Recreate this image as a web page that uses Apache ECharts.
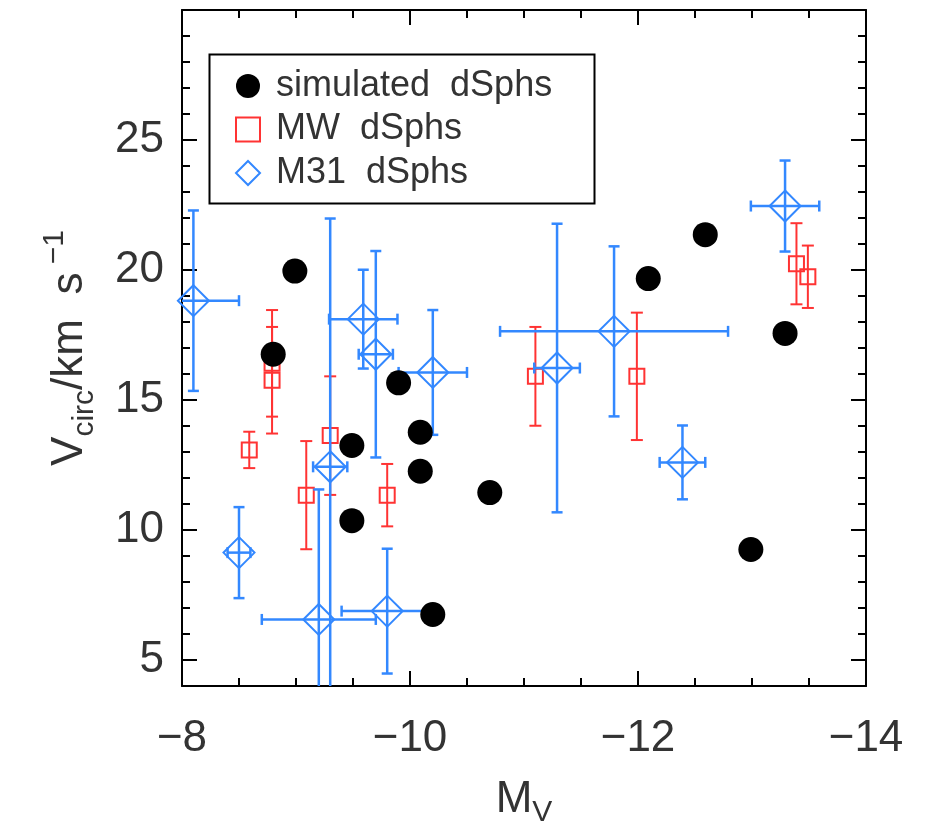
<!DOCTYPE html>
<html>
<head>
<meta charset="utf-8">
<script src="https://cdn.jsdelivr.net/npm/echarts@6/dist/echarts.min.js"></script>
<style>
  html, body { margin: 0; padding: 0; background: #fff; }
  #chart { width: 927px; height: 833px; }
</style>
</head>
<body>
<div id="chart"></div>
<script>
// simulated dSphs
const simX = [-8.99, -8.80, -9.90, -10.09, -9.49, -10.09, -10.70, -9.49, -10.20, -12.09, -12.59, -13.29, -12.99]
const simY = [19.96, 16.76, 15.66, 13.76, 13.25, 12.26, 11.44, 10.36, 6.75, 19.67, 21.36, 17.56, 9.25]

// MW dSphs
const mwX = [-8.59, -8.79, -8.79, -9.09, -9.30, -9.80, -11.10, -11.99, -13.39, -13.49]
const mwY = [13.08, 16.41, 15.76, 11.34, 13.63, 11.34, 15.91, 15.91, 20.24, 19.74]
const mwYErr = [0.7, 2.05, 2.05, 2.08, 2.28, 1.2, 1.9, 2.45, 1.56, 1.2]

// M31 dSphs
const m31X = [-8.10, -8.50, -9.20, -9.30, -9.59, -9.70, -9.80, -10.20, -11.29, -11.79, -12.39, -13.29]
const m31Y = [18.82, 9.13, 6.56, 12.43, 18.11, 16.76, 6.88, 16.06, 16.23, 17.64, 12.60, 22.46]
const m31XErr = [0.4, 0.1, 0.5, 0.15, 0.3, 0.15, 0.4, 0.3, 0.2, 1.0, 0.2, 0.3]
const m31YErr = [3.47, 1.75, 5.0, 9.55, 1.9, 3.97, 2.4, 2.4, 5.55, 3.27, 1.42, 1.75]

const yMajor = [5, 10, 15, 20, 25]

const RED = '#ff3333'
const BLUE = '#3388ff'
const FONT = 'Liberation Sans'
const TXT = '#333'

const zip = (...cols) => cols[0].map((_, i) => cols.map(c => c[i]))

// error bars drawn through the axis scale
const errBars = (color, capW, lw) => (params, api) => {
  const x = api.value(0), y = api.value(1), xe = api.value(2), ye = api.value(3)
  const c = api.coord([x, y])
  const style = { stroke: color, lineWidth: lw }
  const kids = []
  if (ye > 0) {
    const t = api.coord([x, y + ye]), b = api.coord([x, y - ye])
    kids.push({ type: 'line', shape: { x1: c[0], y1: t[1], x2: c[0], y2: b[1] }, style })
    kids.push({ type: 'line', shape: { x1: c[0] - capW / 2, y1: t[1], x2: c[0] + capW / 2, y2: t[1] }, style })
    kids.push({ type: 'line', shape: { x1: c[0] - capW / 2, y1: b[1], x2: c[0] + capW / 2, y2: b[1] }, style })
  }
  if (xe > 0) {
    const l = api.coord([x - xe, y]), r = api.coord([x + xe, y])
    kids.push({ type: 'line', shape: { x1: l[0], y1: c[1], x2: r[0], y2: c[1] }, style })
    kids.push({ type: 'line', shape: { x1: l[0], y1: c[1] - capW / 2, x2: l[0], y2: c[1] + capW / 2 }, style })
    kids.push({ type: 'line', shape: { x1: r[0], y1: c[1] - capW / 2, x2: r[0], y2: c[1] + capW / 2 }, style })
  }
  return { type: 'group', children: kids }
}

const axisLine = { show: true, lineStyle: { color: '#000', width: 2 } }
const tickStyle = { color: '#000', width: 2 }
const minus = v => (v < 0 ? '\u2212' + Math.abs(v) : String(v))

const xBase = {
  type: 'value', min: -14, max: -8, interval: 2, inverse: true,
  axisLine, splitLine: { show: false },
  axisTick: { inside: true, length: 15, lineStyle: tickStyle },
  minorTick: { show: true, splitNumber: 4, length: 8, lineStyle: tickStyle },
}
const yBase = {
  type: 'value', min: 4, max: 30, splitLine: { show: false },
}

const chart = echarts.init(document.getElementById('chart'))
chart.setOption({
  animation: false,
  backgroundColor: '#fff',
  textStyle: { fontFamily: FONT, color: TXT },
  grid: { left: 182, top: 10, width: 684, height: 684 },
  xAxis: [
    {
      ...xBase, position: 'bottom',
      axisLabel: { formatter: minus, fontSize: 44, color: TXT, margin: 31, fontFamily: FONT },
      name: '{m|M}{s|V}', nameLocation: 'middle', nameGap: 86,
      nameTextStyle: {
        rich: {
          m: { fontSize: 44, color: TXT, fontFamily: FONT, lineHeight: 56, verticalAlign: 'middle' },
          s: { fontSize: 30, color: TXT, fontFamily: FONT, lineHeight: 30, verticalAlign: 'bottom' },
        },
      },
    },
    { ...xBase, position: 'top', axisLabel: { show: false } },
  ],
  yAxis: [
    {
      ...yBase, interval: 1, position: 'left', axisLine,
      axisTick: { inside: true, length: 8, lineStyle: tickStyle },
      axisLabel: { show: false },
      name: '{v|V}{sub|circ}{v|/km  s}{sup| \u22121}', nameLocation: 'middle', nameGap: 82,
      nameTextStyle: {
        rich: {
          v: { fontSize: 44, color: TXT, fontFamily: FONT, lineHeight: 60, verticalAlign: 'middle' },
          sub: { fontSize: 30, color: TXT, fontFamily: FONT, lineHeight: 30, verticalAlign: 'bottom' },
          sup: { fontSize: 30, color: TXT, fontFamily: FONT, lineHeight: 30, verticalAlign: 'top' },
        },
      },
    },
    {
      ...yBase, position: 'left', axisLine: { show: false },
      axisTick: { inside: true, length: 15, lineStyle: tickStyle, customValues: yMajor },
      axisLabel: { customValues: yMajor, fontSize: 44, color: TXT, margin: 18, fontFamily: FONT },
    },
    {
      ...yBase, interval: 1, position: 'right', axisLine,
      axisTick: { inside: true, length: 8, lineStyle: tickStyle },
      axisLabel: { show: false },
    },
    {
      ...yBase, position: 'right', axisLine: { show: false },
      axisTick: { inside: true, length: 15, lineStyle: tickStyle, customValues: yMajor },
      axisLabel: { show: false },
    },
  ],
  legend: {
    orient: 'vertical', left: 235, top: 68, padding: 0,
    itemWidth: 24, itemHeight: 24, itemGap: 7.5,
    textStyle: { fontSize: 36, color: TXT, fontFamily: FONT, lineHeight: 24, padding: [0, 0, 0, 11] },
    data: [
      { name: 'simulated dSphs', icon: 'circle' },
      { name: 'MW dSphs', icon: 'rect' },
      { name: 'M31 dSphs', icon: 'diamond' },
    ],
    formatter: n => n.replace(' ', '  '),
  },
  graphic: [
    {
      type: 'rect', left: 207, top: 52, z: 100,
      shape: { width: 385, height: 149 },
      style: { fill: 'none', stroke: '#000', lineWidth: 2 },
    },
  ],
  series: [
    {
      type: 'custom', name: 'mwErr', clip: true, z: 2,
      renderItem: errBars(RED, 12, 2),
      encode: { x: 0, y: 1 },
      data: zip(mwX, mwY, mwX.map(() => 0), mwYErr),
    },
    {
      type: 'scatter', name: 'MW dSphs', z: 3,
      symbol: 'rect', symbolSize: 15,
      itemStyle: { color: 'rgba(255,255,255,0)', borderColor: RED, borderWidth: 2, opacity: 1 },
      data: zip(mwX, mwY),
    },
    {
      type: 'custom', name: 'm31Err', clip: true, z: 4,
      renderItem: errBars(BLUE, 11, 2.5),
      encode: { x: 0, y: 1 },
      data: zip(m31X, m31Y, m31XErr, m31YErr),
    },
    {
      type: 'scatter', name: 'M31 dSphs', z: 5,
      symbol: 'diamond', symbolSize: 31,
      itemStyle: { color: 'rgba(255,255,255,0)', borderColor: BLUE, borderWidth: 2, opacity: 1 },
      data: zip(m31X, m31Y),
    },
    {
      type: 'scatter', name: 'simulated dSphs', z: 6,
      symbol: 'circle', symbolSize: 25,
      itemStyle: { color: '#000', opacity: 1 },
      data: zip(simX, simY),
    },
  ],
})
</script>
</body>
</html>
